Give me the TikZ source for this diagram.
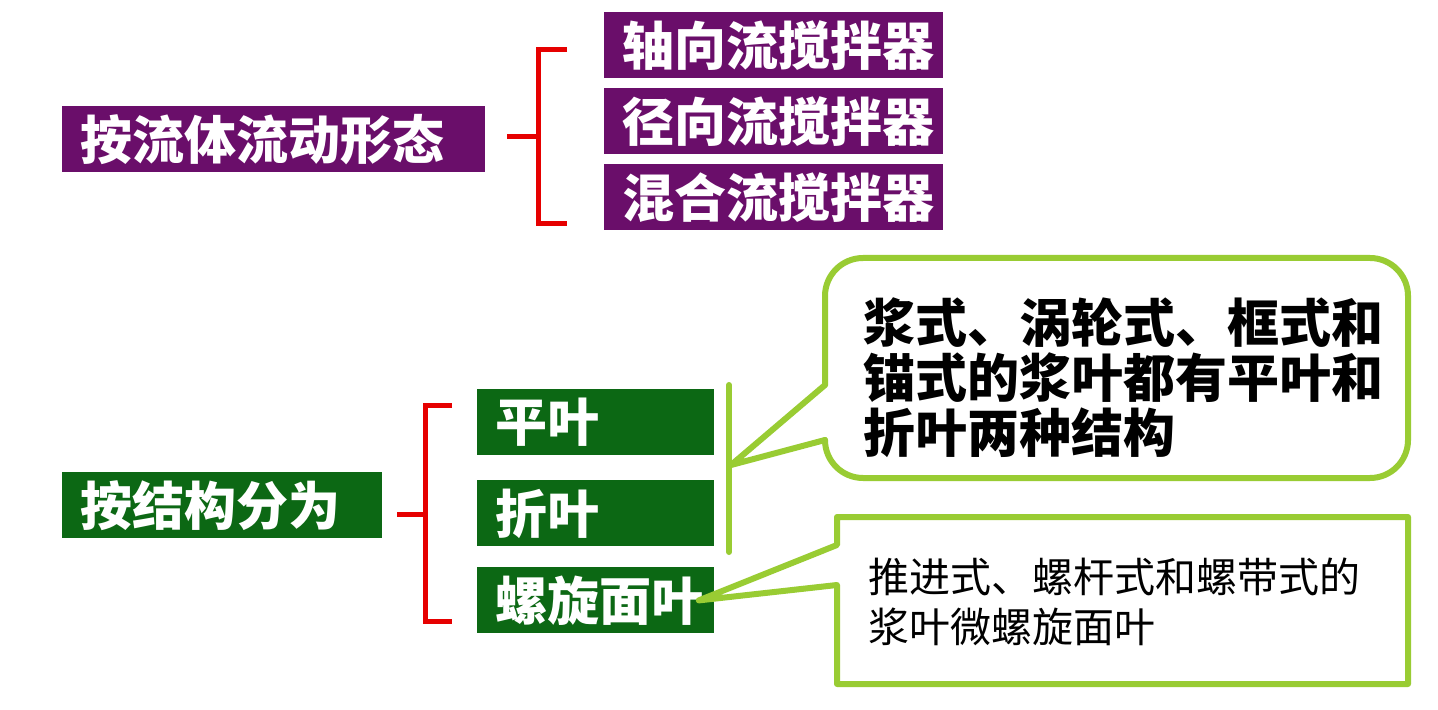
\documentclass[tikz,border=0pt]{standalone}
\usepackage{fontspec}
\setmainfont{Noto Sans CJK SC}
\usepackage{tikz}
\definecolor{flowpurple}{RGB}{106,14,106}
\definecolor{structgreen}{RGB}{12,104,20}
\definecolor{notegreen}{RGB}{153,204,51}
\definecolor{bracered}{RGB}{230,0,0}

\begin{document}
\begin{tikzpicture}[x=0.5pt, y=-0.5pt,
	box/.style={rectangle, anchor=north west, inner xsep=0pt, inner ysep=0pt, minimum height=33pt, text width=#1, align=left, text=white, font=\fontsize{26}{30}\selectfont\bfseries, execute at begin node={\hspace*{9pt}}},
	pbox/.style={box=#1, fill=flowpurple},
	gbox/.style={box=#1, fill=structgreen},
	brace/.style={draw=bracered, line width=2.5pt},
	note/.style={draw=notegreen, line width=3pt, line cap=round, line join=round}]
			\fill[white] (0,0) rectangle (1438,710);
			\useasboundingbox (0,0) rectangle (1438,710);
			
			\node[pbox=211.5pt] (flow) at (62,106){按流体流动形态};
			\node[pbox=169.5pt] (axial) at (604,12){轴向流搅拌器};
			\node[pbox=169.5pt] (radial) at (604,88){径向流搅拌器};
			\node[pbox=169.5pt] (mixed) at (604,164){混合流搅拌器};
			
			\node[gbox=160pt] (struct) at (62,472){按结构分为};
			\node[gbox=118.5pt] (flat) at (477,389){平叶};
			\node[gbox=118.5pt] (pitched) at (477,480){折叶};
			\node[gbox=118.5pt] (helical) at (477,567){螺旋面叶};
			
			\coordinate (b1) at (538,137);
			\coordinate (b2) at (425,514);
			\draw[brace] (507,137) -- (b1);
			\draw[brace] (567,50) -| (b1) |- (567,224);
			\draw[brace] (397,514) -- (b2);
			\draw[brace] (452,406) -| (b2) |- (452,621);
			
			\coordinate (tip1) at (731,465);
			\draw[note] (729,385) -- (729,552);
			\draw[note, rounded corners=19pt] (825,440) -- (825,478) -- (1408,478) -- (1408,258) -- (825,258) -- (825,385);
			\draw[note] (825,385) -- (tip1) -- (825,440);
			\node[anchor=west, inner sep=0pt, align=left, font=\fontsize{26}{27.5}\selectfont\bfseries] (note1) at (863,378){浆式、涡轮式、框式和\\锚式的浆叶都有平叶和\\折叶两种结构};
			
			\draw[note] (837,545) -- ([xshift=-8pt]helical.east) -- (837,585) -- (837,684) -- (1408,684) -- (1408,517) -- (837,517) -- cycle;
			\node[anchor=west, inner sep=0pt, align=left, font=\fontsize{20.5}{25}\selectfont] (note2) at (868,602){推进式、螺杆式和螺带式的\\浆叶微螺旋面叶};
			\end{tikzpicture}
\end{document}
